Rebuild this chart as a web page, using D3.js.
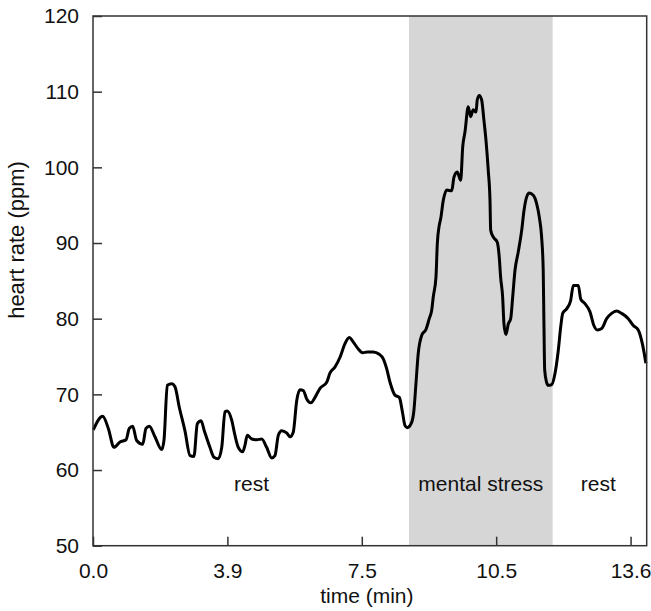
<!DOCTYPE html>
<html>
<head>
<meta charset="utf-8">
<script src="https://cdn.jsdelivr.net/npm/d3@7"></script>
<style>
  html, body { margin: 0; padding: 0; background: #fff; }
  svg { display: block; }
  text { font-family: "Liberation Sans", Arial, sans-serif; fill: #111; }
</style>
</head>
<body>
<svg id="chart" width="651" height="611"></svg>
<script>
// Recording position (sample index) and heart rate (ppm)
const sampleIndex = [
  2, 72, 114, 156, 201, 246, 270, 295, 325, 370, 394, 419, 461, 511, 528, 553, 586, 610, 642, 684,
  722, 751, 776, 804, 828, 870, 900, 932, 958, 982, 999, 1032, 1056, 1081, 1114, 1131, 1148, 1181, 1218, 1255,
  1292, 1330, 1354, 1379, 1404, 1441, 1466, 1490, 1516, 1540, 1565, 1590, 1622, 1652, 1689, 1739, 1763, 1800, 1838, 1875,
  1907, 1937, 1974, 2007, 2041, 2085, 2130, 2160, 2185, 2210, 2247, 2279, 2304, 2321, 2338, 2371, 2388, 2403, 2420, 2446,
  2478, 2502, 2520, 2532, 2552, 2562, 2576, 2587, 2606, 2632, 2669, 2686, 2710, 2736, 2751, 2768, 2792, 2810, 2829, 2850,
  2859, 2874, 2892, 2909, 2924, 2941, 2954, 2959, 2978, 3008, 3023, 3033, 3048, 3058, 3073, 3090, 3108, 3123, 3140, 3164,
  3190, 3207, 3227, 3246, 3276, 3301, 3321, 3338, 3350, 3355, 3361, 3375, 3387, 3413, 3437, 3462, 3480, 3495, 3524, 3554,
  3574, 3611, 3629, 3660, 3698, 3727, 3752, 3785, 3822, 3859, 3896, 3934, 3983, 4020, 4057, 4090, 4114
];
const heartRate = [
  65.3, 67.1, 65.5, 63.0, 63.7, 64.0, 65.5, 65.8, 63.9, 63.4, 65.5, 65.8, 64.4, 62.7, 63.9, 71.2, 71.4, 71.0, 68.3, 65.2,
  61.9, 61.8, 66.1, 66.5, 65.2, 63.0, 61.7, 61.5, 63.0, 67.7, 67.8, 66.6, 64.6, 63.0, 62.4, 63.3, 64.6, 64.1, 64.0, 64.1,
  63.0, 61.6, 61.9, 64.6, 65.2, 64.9, 64.4, 65.0, 69.2, 70.6, 70.5, 69.4, 68.9, 69.6, 70.8, 71.6, 72.8, 73.6, 74.9, 76.7,
  77.5, 76.9, 76.0, 75.5, 75.6, 75.6, 75.3, 74.7, 73.4, 71.6, 69.9, 69.6, 67.5, 65.9, 65.6, 66.3, 67.9, 71.4, 75.4, 77.8,
  78.6, 80.0, 81.1, 82.9, 85.5, 89.9, 92.3, 93.2, 95.6, 97.0, 96.9, 98.7, 99.4, 98.3, 102.7, 104.7, 108.0, 106.7, 107.6, 107.3,
  108.9, 109.5, 108.9, 106.2, 103.6, 99.6, 95.6, 91.7, 90.8, 90.1, 88.1, 85.5, 82.9, 79.3, 77.9, 79.3, 80.0, 82.9, 86.4, 88.8,
  91.7, 94.3, 96.1, 96.6, 96.3, 95.2, 93.4, 90.8, 86.4, 79.8, 73.2, 71.6, 71.2, 71.3, 72.7, 75.8, 78.9, 80.7, 81.3, 82.4,
  84.4, 84.4, 82.6, 82.0, 80.9, 79.1, 78.5, 78.7, 80.0, 80.7, 81.0, 80.7, 80.0, 79.1, 78.5, 76.5, 74.1
];

// Time axis: tick positions (sample index) and their elapsed-time labels (min)
const xTickPositions = [0, 1000, 2000, 3000, 4000];
const xTickLabels = ["0.0", "3.9", "7.5", "10.5", "13.6"];
const xExtent = [0, 4120];

const yTicks = [50, 60, 70, 80, 90, 100, 110, 120];
const yExtent = [50, 120];

// Protocol phases
const phaseLabels = ["rest", "mental stress", "rest"];
const phaseStart = [0, 2351, 3420];
const phaseEnd = [2351, 3420, 4120];
const phaseLabelPos = [1180, 2885, 3760];
const stressPhase = 1;

const margin = { left: 93, top: 16, right: 4.3, bottom: 65.3 };
const width = 651, height = 611;

const svg = d3.select("#chart");

const x = d3.scaleLinear().domain(xExtent).range([margin.left, width - margin.right]);
const y = d3.scaleLinear().domain(yExtent).range([height - margin.bottom, margin.top]);

// Shaded mental-stress interval
svg.append("rect")
  .attr("x", x(phaseStart[stressPhase]))
  .attr("y", y(yExtent[1]))
  .attr("width", x(phaseEnd[stressPhase]) - x(phaseStart[stressPhase]))
  .attr("height", y(yExtent[0]) - y(yExtent[1]))
  .attr("fill", "#d6d6d6");

// Phase names
svg.append("g")
  .selectAll("text")
  .data(phaseLabels)
  .join("text")
  .attr("x", (d, i) => x(phaseLabelPos[i]))
  .attr("y", 491)
  .attr("text-anchor", "middle")
  .attr("font-size", 21)
  .text(d => d);

// Heart-rate trace
const points = sampleIndex.map((s, i) => [s, heartRate[i]]);
svg.append("path")
  .datum(points)
  .attr("fill", "none")
  .attr("stroke", "#000")
  .attr("stroke-width", 3)
  .attr("stroke-linejoin", "round")
  .attr("d", d3.line().x(d => x(d[0])).y(d => y(d[1])).curve(d3.curveMonotoneX));

// Frame
svg.append("rect")
  .attr("x", x(xExtent[0]))
  .attr("y", y(yExtent[1]))
  .attr("width", x(xExtent[1]) - x(xExtent[0]))
  .attr("height", y(yExtent[0]) - y(yExtent[1]))
  .attr("fill", "none")
  .attr("stroke", "#333")
  .attr("stroke-width", 1.5);

// Axes with inward ticks
const xAxis = d3.axisBottom(x)
  .tickValues(xTickPositions)
  .tickFormat((d, i) => xTickLabels[i])
  .tickSizeInner(-9)
  .tickSizeOuter(0)
  .tickPadding(17);

const yAxis = d3.axisLeft(y)
  .tickValues(yTicks)
  .tickFormat(d3.format("d"))
  .tickSizeInner(-9)
  .tickSizeOuter(0)
  .tickPadding(14);

const gx = svg.append("g")
  .attr("transform", `translate(0,${y(yExtent[0])})`)
  .call(xAxis);
const gy = svg.append("g")
  .attr("transform", `translate(${x(xExtent[0])},0)`)
  .call(yAxis);

[gx, gy].forEach(g => {
  g.select(".domain").remove();
  g.selectAll(".tick line").attr("stroke", "#333").attr("stroke-width", 1.5);
  g.selectAll(".tick text")
    .attr("font-size", 21)
    .attr("font-family", "'Liberation Sans', Arial, sans-serif")
    .attr("fill", "#111");
});

// Axis titles
svg.append("text")
  .attr("x", (x(xExtent[0]) + x(xExtent[1])) / 2 - 3)
  .attr("y", 603)
  .attr("text-anchor", "middle")
  .attr("font-size", 21)
  .text("time (min)");

svg.append("text")
  .attr("transform", "translate(24,240) rotate(-90)")
  .attr("text-anchor", "middle")
  .attr("font-size", 22)
  .text("heart rate (ppm)");
</script>
</body>
</html>
